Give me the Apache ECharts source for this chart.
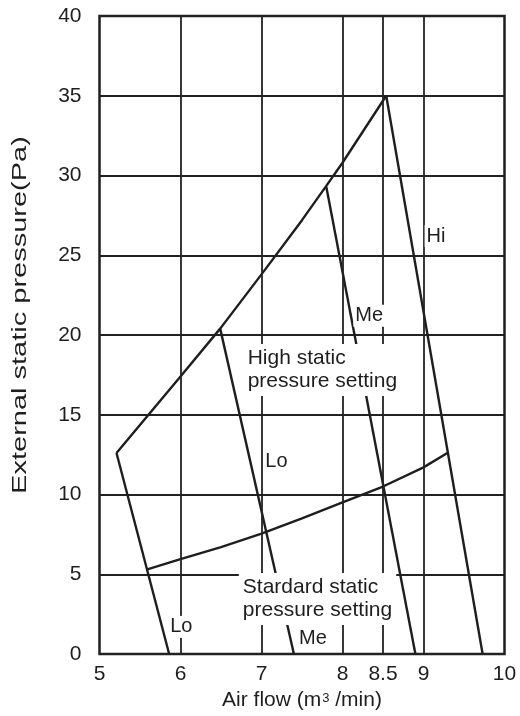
<!DOCTYPE html>
<html>
<head>
<meta charset="utf-8">
<script src="https://cdn.jsdelivr.net/npm/echarts@6/dist/echarts.min.js"></script>
<style>
  html, body { margin: 0; padding: 0; background: #fff; }
  #chart { width: 520px; height: 716px; }
</style>
</head>
<body>
<div id="chart"></div>
<script>
// Axis ticks
const xTickValues = [5, 6, 7, 8, 8.5, 9, 10];
const xGridValues = [6, 7, 8, 8.5, 9];

// High static pressure setting envelope [airflow, pressure]
const highEnvelope = [[5.21, 12.6], [6.0, 17.4], [6.49, 20.4], [7.0, 23.8], [7.5, 27.2], [7.8, 29.35], [8.0, 30.8], [8.54, 35.0]];
// Standard static pressure setting envelope
const standardEnvelope = [[5.59, 5.3], [6.0, 5.95], [6.5, 6.7], [7.0, 7.55], [7.5, 8.5], [8.0, 9.5], [8.5, 10.5], [9.0, 11.7], [9.31, 12.65]];

// Fan speed curves
const fanLoStd = [[5.21, 12.6], [5.86, 0]];
const fanLoHighMeStd = [[6.49, 20.4], [7.40, 0]];
const fanMeHigh = [[7.80, 29.3], [8.90, 0]];
const fanHi = [[8.54, 35.0], [9.73, 0]];

// Annotations [airflow, pressure, text]
const curveLabels = [
  [9.155, 26.2, 'Hi'],
  [8.33, 21.2, 'Me'],
  [7.185, 12.1, 'Lo'],
  [6.01, 1.7, 'Lo'],
  [7.636, 1.0, 'Me']
];
const settingLabels = [
  [6.78, 17.8, 'High static\npressure setting'],
  [6.72, 3.45, 'Stardard static\npressure setting']
];

const yTitle = 'External static pressure(Pa)';

const FONT = 'Liberation Sans, Arial, sans-serif';
const INK = '#1e1e1e';

function curve(name, data) {
  return {
    name, type: 'line', data, z: 3,
    symbol: 'none', smooth: false,
    lineStyle: { color: INK, width: 2.4 },
    silent: true
  };
}

const chart = echarts.init(document.getElementById('chart'));
chart.setOption({
  animation: false,
  backgroundColor: '#fff',
  grid: {
    left: 99.5, right: 15.5, top: 16, bottom: 62,
    show: true, borderColor: INK, borderWidth: 2.5, backgroundColor: 'transparent'
  },
  // vertical axis title, drawn elongated along its reading direction
  graphic: [{
    type: 'text', silent: true,
    x: 20, y: 315, rotation: Math.PI / 2, scaleX: 1.45, scaleY: 1,
    style: {
      text: yTitle, fontFamily: FONT, fontSize: 20, fill: INK,
      align: 'center', verticalAlign: 'middle'
    }
  }],
  xAxis: {
    type: 'value', min: 5, max: 10, interval: 1,
    name: 'Air flow (m{sup|3} /min)',
    nameLocation: 'middle', nameGap: 36,
    nameTextStyle: {
      fontFamily: FONT, fontSize: 21, color: INK,
      rich: { sup: { fontFamily: FONT, fontSize: 13, color: INK, verticalAlign: 'top', padding: [2, 0, 0, 1] } }
    },
    axisLine: { show: false },
    axisTick: { show: false },
    splitLine: { show: false },
    axisLabel: {
      customValues: xTickValues,
      fontFamily: FONT, fontSize: 21, color: INK, margin: 10
    }
  },
  yAxis: {
    type: 'value', min: 0, max: 40, interval: 5,
    axisLine: { show: false },
    axisTick: { show: false },
    splitLine: { show: true, lineStyle: { color: '#222', width: 1.8 } },
    axisLabel: { fontFamily: FONT, fontSize: 21, color: INK, margin: 18 }
  },
  series: [
    {
      name: 'gridX', type: 'line', data: [], z: 1, silent: true,
      markLine: {
        silent: true, symbol: 'none', animation: false,
        label: { show: false },
        lineStyle: { color: '#222', width: 1.8, type: 'solid' },
        data: xGridValues.map(v => ({ xAxis: v }))
      }
    },
    curve('High static pressure setting', highEnvelope),
    curve('Standard static pressure setting', standardEnvelope),
    curve('Lo (standard)', fanLoStd),
    curve('Lo (high) / Me (standard)', fanLoHighMeStd),
    curve('Me (high)', fanMeHigh),
    curve('Hi', fanHi),
    {
      name: 'curveLabels', type: 'scatter', z: 6, silent: true,
      symbolSize: 0,
      itemStyle: { opacity: 1 },
      data: curveLabels,
      label: {
        show: true, position: 'inside',
        formatter: p => p.value[2],
        fontFamily: FONT, fontSize: 20, color: INK,
        backgroundColor: '#fff', padding: [1, 2]
      }
    },
    {
      name: 'settingLabels', type: 'scatter', z: 6, silent: true,
      symbolSize: 0,
      itemStyle: { opacity: 1 },
      data: settingLabels,
      label: {
        show: true, position: 'right', distance: 0,
        formatter: p => p.value[2],
        fontFamily: FONT, fontSize: 21, color: INK, lineHeight: 23,
        align: 'left',
        backgroundColor: '#fff', padding: [3, 4]
      }
    }
  ]
});
</script>
</body>
</html>
